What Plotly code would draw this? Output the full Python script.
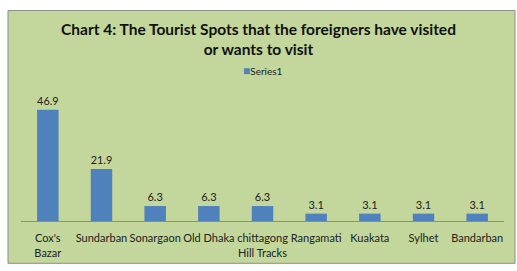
import plotly.graph_objects as go

categories = ["Cox's<br>Bazar", "Sundarban", "Sonargaon", "Old Dhaka", "chittagong<br>Hill Tracks",
              "Rangamati", "Kuakata", "Sylhet", "Bandarban"]
values = [46.9, 21.9, 6.3, 6.3, 6.3, 3.1, 3.1, 3.1, 3.1]
series_name = "Series1"
title_text = "Chart 4: The Tourist Spots that the foreigners have visited<br>or wants to visit"

W, H = 517, 271
ml, mr, mt, mb = 21, 13, 100, 48
pw, ph = W - ml - mr, H - mt - mb

FONT = "Lato"
BAR = "#4F81BD"

fig = go.Figure()
fig.add_trace(go.Bar(
    x=categories, y=values, name=series_name,
    marker=dict(color=BAR, line=dict(width=0)),
    text=[f"{v:.1f}" for v in values], textposition="outside",
    textfont=dict(size=11, color="#222222", family=FONT),
    cliponaxis=False, showlegend=False,
))

# chart area box
fig.add_shape(type="rect", xref="paper", yref="paper",
              x0=(8 - ml) / pw, x1=(515 - ml) / pw,
              y0=(H - 266 - mb) / ph, y1=(H - 9 - mb) / ph,
              fillcolor="#C3D69B", line=dict(color="#8C8C8C", width=1), layer="below")

# legend
fig.add_annotation(xref="paper", yref="paper", x=(263 - ml) / pw, y=(H - 70 - mb) / ph,
                   xanchor="center", yanchor="middle", showarrow=False,
                   text=f"<span style='color:{BAR};font-size:12px'>■</span>{series_name}",
                   font=dict(size=10, family=FONT, color="#222222"))

fig.update_layout(
    width=W, height=H,
    margin=dict(l=ml, r=mr, t=mt, b=mb),
    paper_bgcolor="white", plot_bgcolor="rgba(0,0,0,0)",
    font=dict(family=FONT, color="#222222"),
    bargap=0.6,
    showlegend=False,
    title=dict(text=title_text, x=0.5, xref="container", xanchor="center",
               y=1 - 35 / H, yref="container", yanchor="top",
               font=dict(size=15.5, family=FONT, color="#111111", weight="bold")),
    xaxis=dict(showline=True, linecolor="#8C8C8C", linewidth=1, ticks="",
               ticklabelstandoff=7,
               tickfont=dict(size=11, family=FONT, color="#222222"),
               showgrid=False, fixedrange=True),
    yaxis=dict(range=[0, 51], visible=False, showgrid=False, zeroline=False),
)

fig.write_html("out.html")
